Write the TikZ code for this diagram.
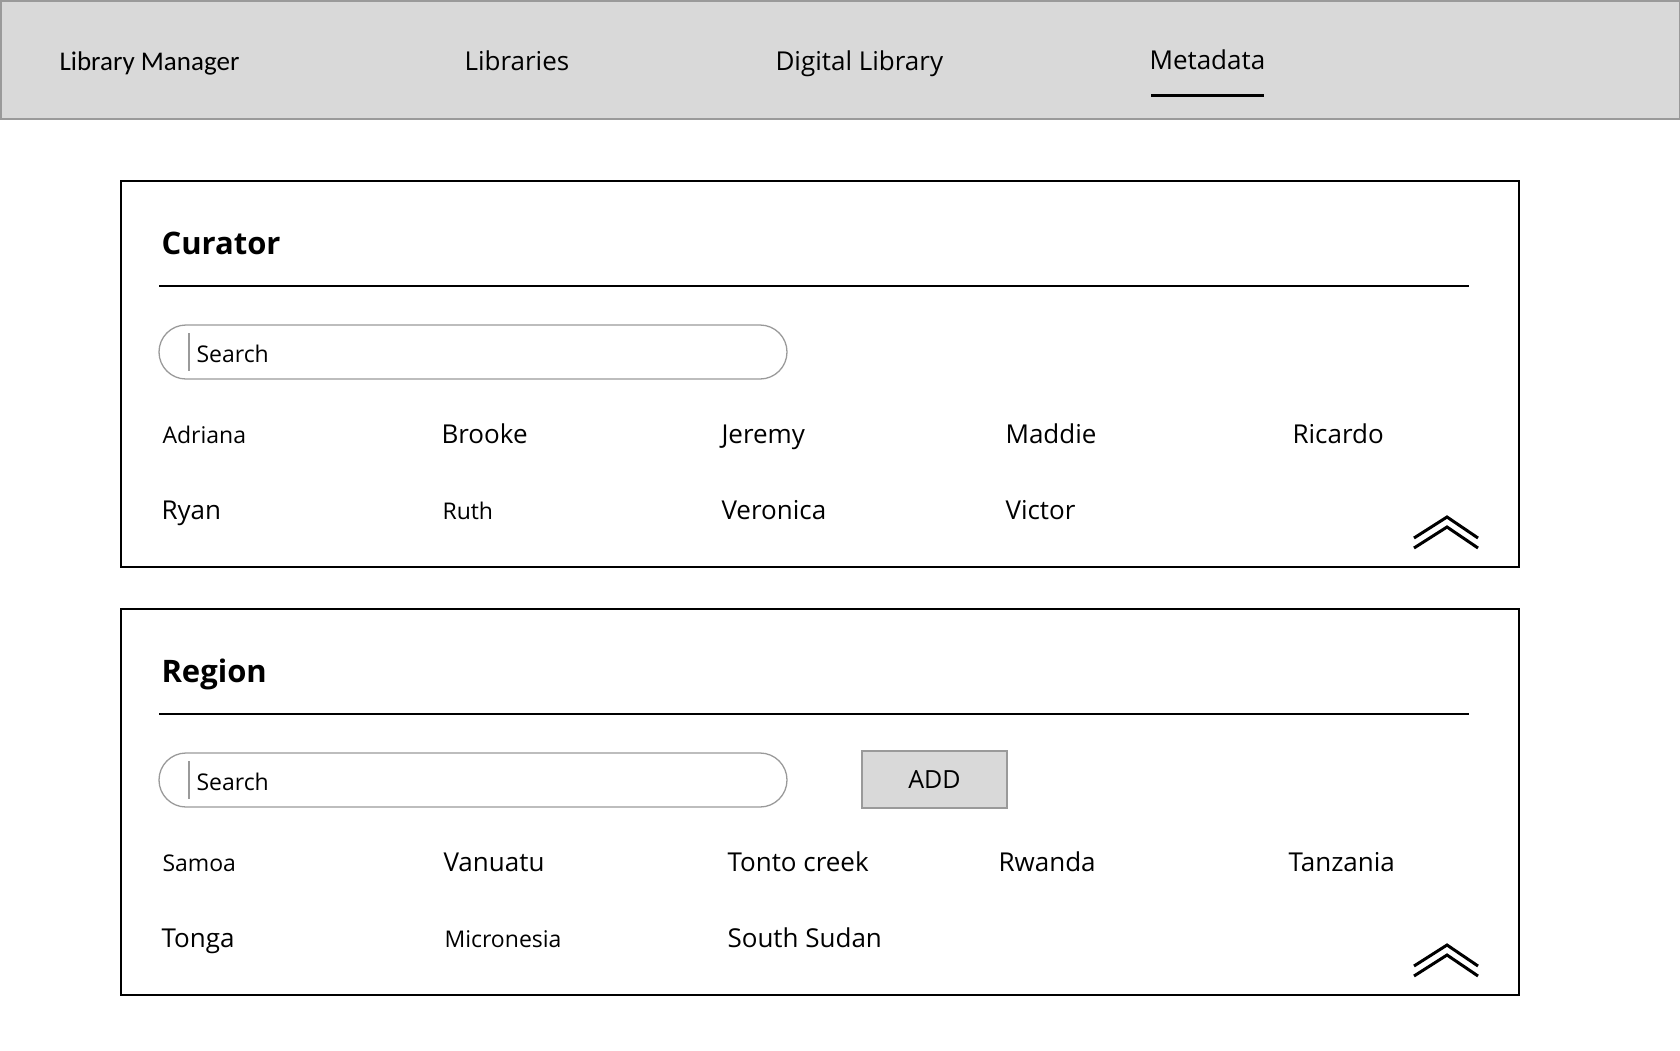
\documentclass[tikz,border=0pt]{standalone}
\usepackage{fontspec}
\setmainfont{Open Sans}
\newfontfamily\narrowfont{Carlito}
\usepackage{xcolor}
\usetikzlibrary{positioning}

\definecolor{barfill}{HTML}{D9D9D9}
\definecolor{bargray}{HTML}{9A9A9A}

\begin{document}
\begin{tikzpicture}[x=1pt, y=-1pt,
    navtext/.style={anchor=base west, font=\fontsize{26}{30}\selectfont},
    titletext/.style={anchor=base west, font=\fontsize{31}{38}\selectfont\bfseries},
    itemtext/.style={anchor=base west, font=\fontsize{26}{30}\selectfont},
    smallitem/.style={anchor=base west, font=\fontsize{23}{28}\selectfont},
    searchbox/.style={draw=bargray, line width=1.3pt, rounded corners=27pt},
    panelbox/.style={draw=black, line width=2pt},
    chevron/.style={line width=3pt, line cap=butt}]

    \useasboundingbox (0,0) rectangle (1680,1050);

    % Top bar
    \draw[bargray, fill=barfill, line width=1.5pt] (0.75,0.75) rectangle (1679.25,119);
    \node[navtext, font=\fontsize{27}{30}\selectfont\narrowfont] (navmanager) at (56,70) {Library Manager};
    \node[navtext] (navlibs) at (461,70) {Libraries};
    \node[navtext] (navdigital) at (772,70) {Digital Library};
    \node[navtext] (navmeta) at (1146,69) {Metadata};
    \draw[line width=3pt] (1151,95) -- (1264,95);

    % Curator panel
    \draw[panelbox] (121,181) rectangle (1519,567);
    \node[titletext] (curtitle) at (158,254) {Curator};
    \draw[line width=1.3pt] (159,286) -- (1469,286);
    \draw[searchbox] (159,325) rectangle (787,379);
    \draw[bargray, line width=1.3pt] (189,333) -- (189,371);
    \node[smallitem] (cursearch) at (193,362) {Search};
    \node[smallitem] (adriana) at (159,443) {Adriana};
    \node[itemtext] (brooke) at (438,443) {Brooke};
    \node[itemtext] (jeremy) at (718,443) {Jeremy};
    \node[itemtext] (maddie) at (1002,443) {Maddie};
    \node[itemtext] (ricardo) at (1289,443) {Ricardo};
    \node[itemtext] (ryan) at (158,519) {Ryan};
    \node[smallitem] (ruth) at (439,519) {Ruth};
    \node[itemtext] (veronica) at (718,519) {Veronica};
    \node[itemtext] (victor) at (1002,519) {Victor};
    \draw[chevron] (1414,538) -- (1447,517) -- (1478,538);
    \draw[chevron] (1414,548) -- (1447,527) -- (1478,548);

    % Region panel
    \draw[panelbox] (121,609) rectangle (1519,995);
    \node[titletext] (regtitle) at (158,682) {Region};
    \draw[line width=1.3pt] (159,714) -- (1469,714);
    \draw[searchbox] (159,753) rectangle (787,807);
    \draw[bargray, line width=1.3pt] (189,761) -- (189,799);
    \node[smallitem] (regsearch) at (193,790) {Search};
    \node[draw=bargray, fill=barfill, line width=1.3pt, minimum width=145pt, minimum height=57pt,
          font=\fontsize{25}{30}\selectfont] (addbtn) at (934.5,779.5) {ADD};
    \node[smallitem] (samoa) at (159,871) {Samoa};
    \node[itemtext] (vanuatu) at (440,871) {Vanuatu};
    \node[itemtext] (tonto) at (724,871) {Tonto creek};
    \node[itemtext] (rwanda) at (995,871) {Rwanda};
    \node[itemtext] (tanzania) at (1285,871) {Tanzania};
    \node[itemtext] (tonga) at (158,947) {Tonga};
    \node[smallitem] (micronesia) at (441,947) {Micronesia};
    \node[itemtext] (southsudan) at (724,947) {South Sudan};
    \draw[chevron] (1414,966) -- (1447,945) -- (1478,966);
    \draw[chevron] (1414,976) -- (1447,955) -- (1478,976);

\end{tikzpicture}
\end{document}
